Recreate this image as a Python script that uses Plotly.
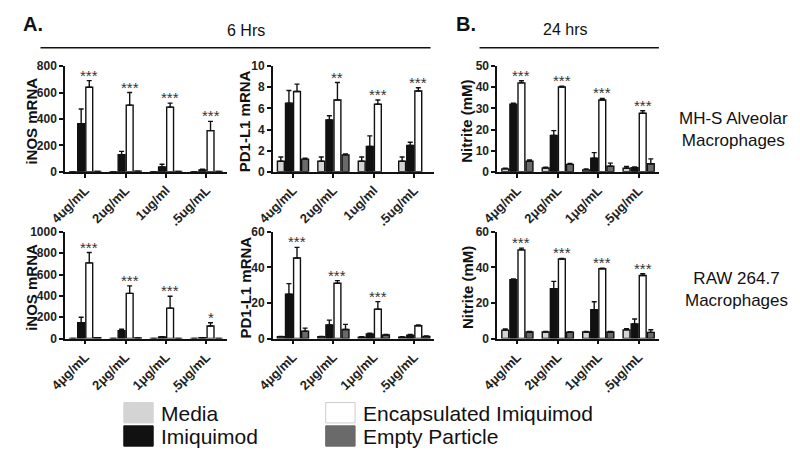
import plotly.graph_objects as go

W, H = 800, 459

# ---------------- data ----------------
cats_ug = ["4ug/mL", "2ug/mL", "1ug/ml", ".5ug/mL"]
cats_mu = ["4\u03bcg/mL", "2\u03bcg/mL", "1\u03bcg/mL", ".5\u03bcg/mL"]
series_names = ["Media", "Imiquimod", "Encapsulated Imiquimod", "Empty Particle"]

# Panel 1: iNOS mRNA, 6 h, MH-S
p1_media = [1, 1, 1, 1]
p1_media_err = [0, 0, 0, 0]
p1_imiq = [365, 130, 37, 15]
p1_imiq_err = [110, 25, 20, 4]
p1_enc = [640, 505, 490, 312]
p1_enc_err = [50, 95, 30, 70]
p1_empty = [3, 5, 2, 2]
p1_empty_err = [0, 0, 0, 0]
p1_stars = ["***", "***", "***", "***"]

# Panel 2: PD1-L1 mRNA, 6 h, MH-S
p2_media = [1.0, 1.0, 1.0, 1.0]
p2_media_err = [0.4, 0.4, 0.4, 0.4]
p2_imiq = [6.5, 4.9, 2.4, 2.5]
p2_imiq_err = [1.2, 0.4, 1.0, 0.3]
p2_enc = [7.6, 6.8, 6.4, 7.65]
p2_enc_err = [0.7, 1.65, 0.4, 0.3]
p2_empty = [1.2, 1.6, None, None]
p2_empty_err = [0.1, 0.1, 0, 0]
p2_stars = ["", "**", "***", "***"]

# Panel 3: Nitrite (mM), 24 h, MH-S
p3_media = [1.4, 1.8, 0.9, 1.7]
p3_media_err = [0.3, 0.4, 0.4, 0.8]
p3_imiq = [32.0, 17.2, 6.4, 2.0]
p3_imiq_err = [0.5, 2.3, 2.7, 0.3]
p3_enc = [42.1, 40.1, 34.0, 27.7]
p3_enc_err = [1.0, 0.4, 0.7, 1.2]
p3_empty = [5.0, 3.5, 2.7, 3.8]
p3_empty_err = [0.6, 0.5, 1.4, 2.3]
p3_stars = ["***", "***", "***", "***"]

# Panel 4: iNOS mRNA, 6 h, RAW 264.7
p4_media = [1, 1, 1, 1]
p4_media_err = [0, 0, 0, 0]
p4_imiq = [148, 73, 15, 7]
p4_imiq_err = [52, 15, 3, 2]
p4_enc = [710, 424, 285, 118]
p4_enc_err = [97, 70, 112, 30]
p4_empty = [9, 5, 2, 1]
p4_empty_err = [0, 0, 0, 0]
p4_stars = ["***", "***", "***", "*"]

# Panel 5: PD1-L1 mRNA, 6 h, RAW 264.7
p5_media = [1.0, 1.0, 0.8, 0.8]
p5_media_err = [0.2, 0.2, 0.2, 0.2]
p5_imiq = [24.9, 7.7, 2.6, 1.9]
p5_imiq_err = [6.0, 2.7, 0.4, 0.4]
p5_enc = [45.3, 31.1, 16.5, 7.2]
p5_enc_err = [6.0, 1.5, 4.3, 0.5]
p5_empty = [4.2, 5.1, 2.0, 1.2]
p5_empty_err = [1.7, 2.9, 0.3, 0.3]
p5_stars = ["***", "***", "***", ""]

# Panel 6: Nitrite (mM), 24 h, RAW 264.7
p6_media = [4.75, 3.7, 3.7, 4.9]
p6_media_err = [0.7, 0.3, 0.3, 0.6]
p6_imiq = [33.1, 28.0, 16.3, 8.2]
p6_imiq_err = [0.4, 4.2, 4.4, 2.8]
p6_enc = [49.9, 44.8, 39.3, 35.5]
p6_enc_err = [1.0, 0.3, 0.3, 1.0]
p6_empty = [3.7, 3.6, 3.7, 3.5]
p6_empty_err = [0.3, 0.3, 0.3, 1.5]
p6_stars = ["***", "***", "***", "***"]

# y axis settings per panel
p_titles = ["iNOS mRNA", "PD1-L1 mRNA", "Nitrite (mM)", "iNOS mRNA", "PD1-L1 mRNA", "Nitrite (mM)"]
p_ymax = [800, 10, 50, 1000, 60, 60]
p_ydtick = [200, 2, 10, 200, 20, 20]
p_cats = [cats_ug, cats_ug, cats_mu, cats_mu, cats_mu, cats_mu]

panels = [
    (p1_media, p1_media_err, p1_imiq, p1_imiq_err, p1_enc, p1_enc_err, p1_empty, p1_empty_err, p1_stars),
    (p2_media, p2_media_err, p2_imiq, p2_imiq_err, p2_enc, p2_enc_err, p2_empty, p2_empty_err, p2_stars),
    (p3_media, p3_media_err, p3_imiq, p3_imiq_err, p3_enc, p3_enc_err, p3_empty, p3_empty_err, p3_stars),
    (p4_media, p4_media_err, p4_imiq, p4_imiq_err, p4_enc, p4_enc_err, p4_empty, p4_empty_err, p4_stars),
    (p5_media, p5_media_err, p5_imiq, p5_imiq_err, p5_enc, p5_enc_err, p5_empty, p5_empty_err, p5_stars),
    (p6_media, p6_media_err, p6_imiq, p6_imiq_err, p6_enc, p6_enc_err, p6_empty, p6_empty_err, p6_stars),
]

# ---------------- style ----------------
colors = ["#d4d4d4", "#111111", "#ffffff", "#6a6a6a"]
FONT = "Liberation Sans, Arial, sans-serif"
BARGAP = 0.2
GROUPGAP = 0.15

# panel pixel geometry
x_px = [(50, 215), (262, 427), (491, 656)]
y_px = [(61, 170), (232, 342)]
title_x_px = [16, 234, 460]


def px_x(p):
    return p / W


def px_y(p):
    return 1 - p / H


fig = go.Figure()
annotations = []
shapes = []

slot = (1 - BARGAP) / 4
offset_enc = -(1 - BARGAP) / 2 + slot * 2.5

for k, pdata in enumerate(panels):
    row, col = divmod(k, 3)
    ax = k + 1
    xa = "x" if ax == 1 else f"x{ax}"
    ya = "y" if ax == 1 else f"y{ax}"
    vals = [pdata[0], pdata[2], pdata[4], pdata[6]]
    errs = [pdata[1], pdata[3], pdata[5], pdata[7]]
    stars = pdata[8]
    xs = list(range(4))
    for s in range(4):
        fig.add_trace(go.Bar(
            x=xs, y=vals[s], name=series_names[s], xaxis=xa, yaxis=ya,
            marker=dict(color=colors[s], line=dict(color="#111111", width=1.4)),
            error_y=dict(type="data", array=errs[s], arrayminus=[0] * 4, symmetric=False,
                         color="#111111", thickness=1.4, width=2.5),
            showlegend=False, offsetgroup=str(s),
        ))
    for i in range(4):
        if stars[i]:
            annotations.append(dict(
                x=i + offset_enc, y=vals[2][i] + errs[2][i], xref=xa, yref=ya,
                text=stars[i], showarrow=False, yanchor="bottom", yshift=-5,
                font=dict(family=FONT, size=15, color="#333333"),
            ))
    x0, x1 = x_px[col]
    y0, y1 = y_px[row]
    axis_common = dict(showgrid=False, zeroline=False, showline=True, linecolor="#111111",
                       linewidth=1.5, ticks="outside", ticklen=4, tickwidth=1.5, tickcolor="#111111")
    fig.layout[f"xaxis{'' if ax == 1 else ax}"] = dict(
        domain=[px_x(x0), px_x(x1)], anchor=ya, range=[-0.5, 3.5],
        tickvals=xs, ticktext=p_cats[k], tickangle=-45,
        tickfont=dict(family=FONT, size=13, color="#222222", weight="bold"), **axis_common)
    fig.layout[f"yaxis{'' if ax == 1 else ax}"] = dict(
        domain=[px_y(y1), px_y(y0)], anchor=xa, range=[0, p_ymax[k]], dtick=p_ydtick[k],
        tickfont=dict(family=FONT, size=12, color="#222222", weight="bold"), **axis_common)
    annotations.append(dict(
        x=px_x(title_x_px[col]), y=px_y((y0 + y1) / 2 + 2), xref="paper", yref="paper",
        text=p_titles[k], textangle=-90, showarrow=False, xanchor="center", yanchor="middle",
        font=dict(family=FONT, size=15, color="#111111", weight="bold"),
    ))

# headers
annotations += [
    dict(x=px_x(5), y=px_y(18), xref="paper", yref="paper", text="<b>A.</b>", showarrow=False,
         xanchor="left", yanchor="middle", font=dict(family=FONT, size=20, color="#111111")),
    dict(x=px_x(447), y=px_y(18), xref="paper", yref="paper", text="<b>B.</b>", showarrow=False,
         xanchor="left", yanchor="middle", font=dict(family=FONT, size=20, color="#111111")),
    dict(x=px_x(235), y=px_y(24), xref="paper", yref="paper", text="6 Hrs", showarrow=False,
         xanchor="center", yanchor="middle", font=dict(family=FONT, size=16, color="#111111")),
    dict(x=px_x(560), y=px_y(23), xref="paper", yref="paper", text="24 hrs", showarrow=False,
         xanchor="center", yanchor="middle", font=dict(family=FONT, size=16, color="#111111")),
    dict(x=px_x(732), y=px_y(126), xref="paper", yref="paper", text="MH-S Alveolar<br>Macrophages",
         showarrow=False, xanchor="center", yanchor="middle", align="center",
         font=dict(family=FONT, size=17, color="#111111")),
    dict(x=px_x(735), y=px_y(291), xref="paper", yref="paper", text="RAW 264.7<br>Macrophages",
         showarrow=False, xanchor="center", yanchor="middle", align="center",
         font=dict(family=FONT, size=17, color="#111111")),
]
shapes += [
    dict(type="line", xref="paper", yref="paper", x0=px_x(25), x1=px_x(423), y0=px_y(42), y1=px_y(42),
         line=dict(color="#111111", width=1.5)),
    dict(type="line", xref="paper", yref="paper", x0=px_x(473), x1=px_x(656), y0=px_y(42), y1=px_y(42),
         line=dict(color="#111111", width=1.5)),
]

# legend (swatches + labels)
legend_pos = [(110, 419), (110, 443), (316, 419), (316, 443)]
for s, (lx, ly) in enumerate(legend_pos):
    shapes.append(dict(type="rect", xref="paper", yref="paper",
                       x0=px_x(lx), x1=px_x(lx + 30), y0=px_y(ly + 10), y1=px_y(ly - 11),
                       fillcolor=colors[s],
                       line=dict(color="#cccccc" if s == 2 else colors[s], width=1)))
    annotations.append(dict(x=px_x(lx + 36), y=px_y(ly), xref="paper", yref="paper",
                            text=series_names[s], showarrow=False, xanchor="left", yanchor="middle",
                            font=dict(family=FONT, size=21, color="#111111")))

fig.update_layout(
    width=W, height=H, autosize=False, margin=dict(l=0, r=0, t=0, b=0),
    paper_bgcolor="white", plot_bgcolor="white",
    barmode="group", bargap=BARGAP, bargroupgap=GROUPGAP,
    annotations=annotations, shapes=shapes, showlegend=False,
)

fig.write_html("out.html", config={"displayModeBar": False},
               post_script="document.body.style.margin='0';")
